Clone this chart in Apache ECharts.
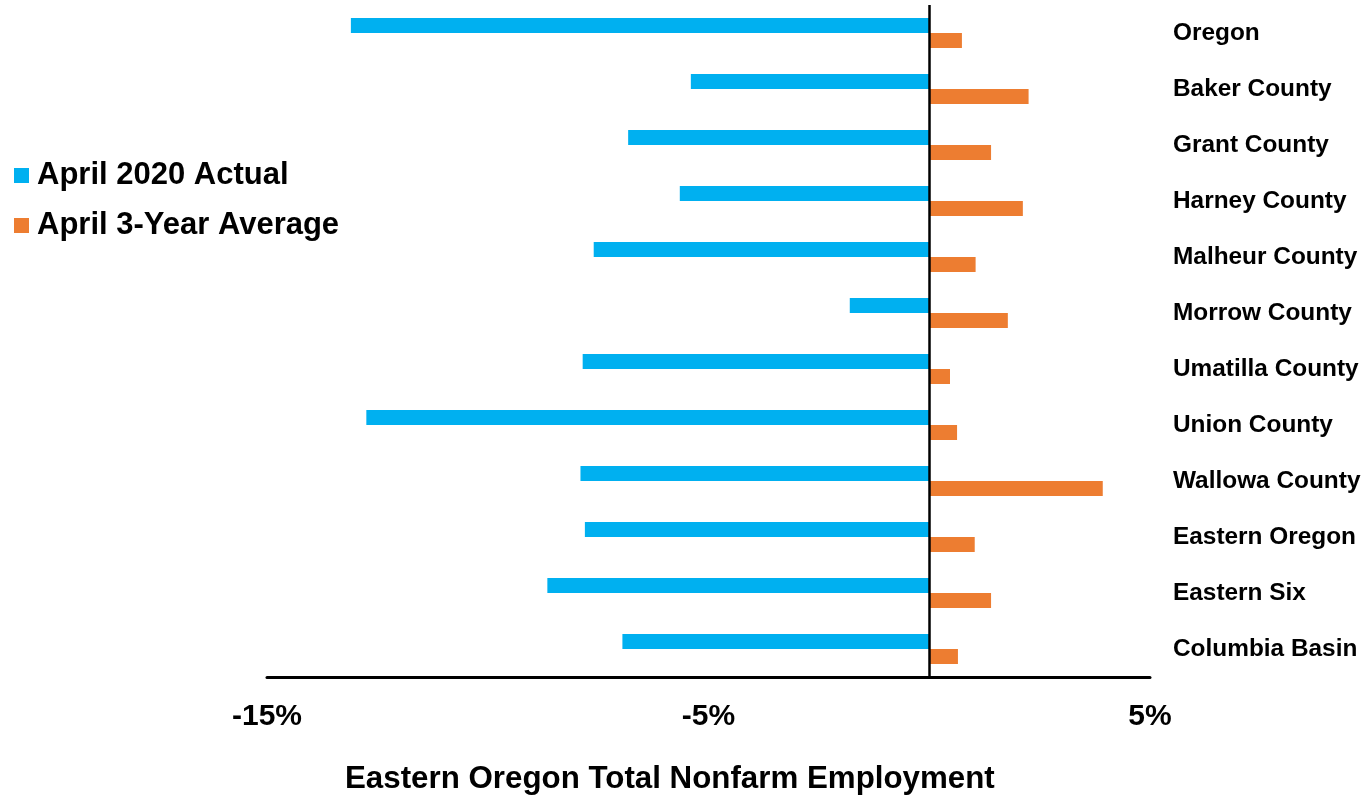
<!DOCTYPE html>
<html><head><meta charset="utf-8">
<script src="https://cdn.jsdelivr.net/npm/echarts@6/dist/echarts.min.js"></script>
<style>html,body{margin:0;padding:0;background:#fff}#c{width:1369px;height:795px}</style>
</head><body><div id="c"></div>
<script>
const categories = ["Oregon","Baker County","Grant County","Harney County","Malheur County","Morrow County","Umatilla County","Union County","Wallowa County","Eastern Oregon","Eastern Six","Columbia Basin"];
const actual2020 = [-13.1,-5.4,-6.82,-5.65,-7.6,-1.8,-7.85,-12.75,-7.9,-7.8,-8.65,-6.95];
const avg3yr = [0.74,2.25,1.4,2.12,1.05,1.78,0.47,0.63,3.93,1.03,1.4,0.65];
const tickLabels = {"-15":"-15%","-5":"-5%","5":"5%"};
const FONT = "'Liberation Sans', Arial, sans-serif";
const chart = echarts.init(document.getElementById('c'));
chart.setOption({
  animation:false,
  title:{text:"Eastern Oregon Total Nonfarm Employment",left:345,top:764,padding:0,
    textStyle:{fontFamily:FONT,fontWeight:"bold",fontSize:31.3,color:"#000"}},
  legend:{orient:"vertical",left:14,top:158,padding:0,itemWidth:15,itemHeight:15,itemGap:15,icon:"rect",
    textStyle:{fontFamily:FONT,fontWeight:"bold",fontSize:31,color:"#000",lineHeight:35,padding:[0,0,0,3]},
    data:["April 2020 Actual","April 3-Year Average"]},
  grid:{left:267,right:219,top:5,bottom:118},
  xAxis:{type:"value",min:-15,max:5,interval:5,
    axisLine:{show:true,onZero:false,lineStyle:{color:"#000",width:3}},
    axisTick:{show:false},splitLine:{show:false},
    axisLabel:{margin:25,fontFamily:FONT,fontWeight:"bold",fontSize:30,color:"#000",
      formatter:v=>tickLabels[String(v)]||""}},
  yAxis:{type:"category",data:categories,inverse:true,position:"right",
    axisLine:{show:false},axisTick:{show:false},
    axisLabel:{margin:23,align:"left",fontFamily:FONT,fontWeight:"bold",fontSize:24.4,color:"#000"}},
  series:[
    {name:"April 2020 Actual",type:"bar",data:actual2020,barWidth:15,barGap:"0%",
     itemStyle:{color:"#00B0F0"},
     markLine:{silent:true,symbol:"none",label:{show:false},lineStyle:{color:"#000",width:2.5,type:"solid"},data:[{xAxis:0}]}},
    {name:"April 3-Year Average",type:"bar",data:avg3yr,barWidth:15,barGap:"0%",
     itemStyle:{color:"#ED7D31"}}
  ]
});
</script></body></html>
